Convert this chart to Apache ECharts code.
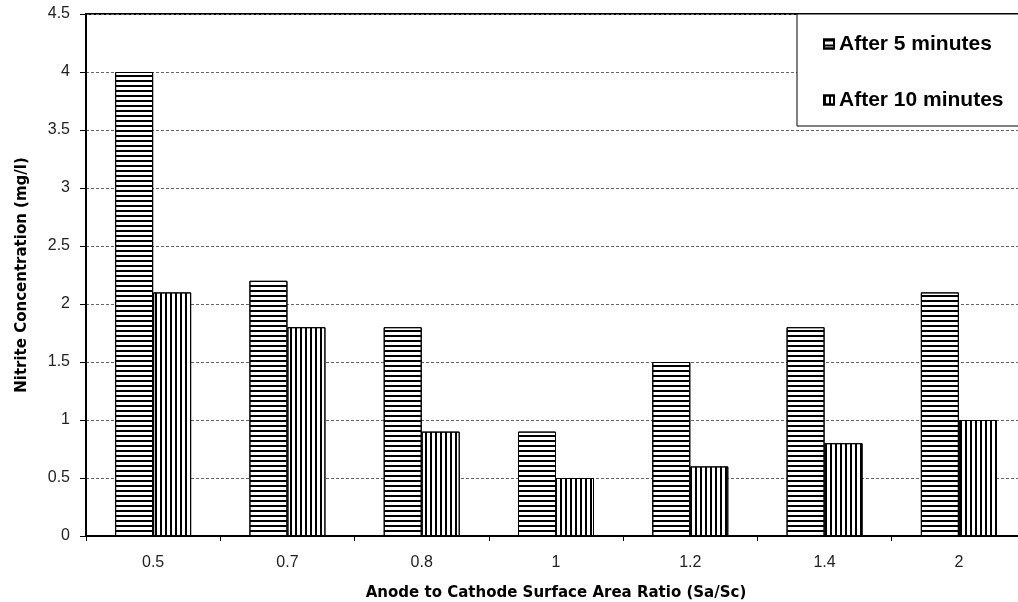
<!DOCTYPE html>
<html>
<head>
<meta charset="utf-8">
<script src="https://cdn.jsdelivr.net/npm/echarts@6/dist/echarts.min.js"></script>
<style>html,body{margin:0;padding:0;background:#fff;overflow:hidden;}#c{width:1018px;height:602px;}</style>
</head>
<body>
<div id="c"></div>
<script>
var categories = ['0.5', '0.7', '0.8', '1', '1.2', '1.4', '2'];
var after5 = [4.0, 2.2, 1.8, 0.9, 1.5, 1.8, 2.1];
var after10 = [2.1, 1.8, 0.9, 0.5, 0.6, 0.8, 1.0];
var seriesNames = ['After 5 minutes', 'After 10 minutes'];
var yTicks = [0, 0.5, 1, 1.5, 2, 2.5, 3, 3.5, 4, 4.5];

var chart = echarts.init(document.getElementById('c'), null, {renderer: 'canvas'});
var font = 'Arial, "Liberation Sans", sans-serif';
var nameFont = '"DejaVu Sans", Verdana, sans-serif';
chart.setOption({
  animation: false,
  backgroundColor: '#fff',
  grid: {left: 86, top: 14, width: 940, height: 522, outerBoundsMode: 'none', containLabel: false,
    show: true, borderColor: '#000', borderWidth: 2, backgroundColor: 'transparent'},
  legend: {
    orient: 'vertical',
    left: 797, top: 14,
    padding: [19, 40, 15, 26],
    itemGap: 34,
    itemWidth: 10, itemHeight: 9,
    backgroundColor: '#fff',
    borderColor: '#000', borderWidth: 1,
    icon: 'rect',
    textStyle: {fontFamily: font, fontSize: 21, fontWeight: 'bold', color: '#000', lineHeight: 22},
    data: seriesNames
  },
  xAxis: {
    type: 'category',
    data: categories,
    name: 'Anode to Cathode Surface Area Ratio (Sa/Sc)',
    nameLocation: 'middle',
    nameGap: 50,
    nameTextStyle: {fontFamily: nameFont, fontSize: 15, fontWeight: 'bold', color: '#000'},
    axisLine: {lineStyle: {color: '#000', width: 2}},
    axisTick: {show: true, length: 5, lineStyle: {color: '#000', width: 1}},
    axisLabel: {fontFamily: font, fontSize: 16, color: '#222', margin: 19},
    splitLine: {show: false}
  },
  yAxis: {
    type: 'value',
    min: 0, max: 4.5, interval: 0.5,
    name: 'Nitrite Concentration (mg/l)',
    nameLocation: 'middle',
    nameGap: 56,
    nameTextStyle: {fontFamily: nameFont, fontSize: 15, fontWeight: 'bold', color: '#000'},
    axisLine: {show: true, lineStyle: {color: '#000', width: 2}},
    axisTick: {show: true, length: 6, lineStyle: {color: '#000'}},
    axisLabel: {fontFamily: font, fontSize: 16, color: '#222', margin: 16,
      formatter: function (v) { return yTicks.indexOf(v) >= 0 ? String(v) : ''; }},
    splitLine: {show: true, lineStyle: {color: '#666', type: [3, 2], width: 1}}
  },
  series: [
    {
      name: seriesNames[0], type: 'bar', data: after5,
      barWidth: 38, barGap: '0%',
      itemStyle: {
        color: '#fff', borderColor: '#000', borderWidth: 1,
        decal: {symbol: 'rect', symbolSize: 1, color: '#000', dashArrayX: [1, 0], dashArrayY: [1.8, 2.5], rotation: 0}
      }
    },
    {
      name: seriesNames[1], type: 'bar', data: after10,
      barWidth: 38,
      itemStyle: {
        color: '#fff', borderColor: '#000', borderWidth: 1,
        decal: {symbol: 'rect', symbolSize: 1, color: '#000', dashArrayX: [1.6, 2.4], dashArrayY: [1, 0], rotation: 0}
      }
    }
  ]
});
</script>
</body>
</html>
